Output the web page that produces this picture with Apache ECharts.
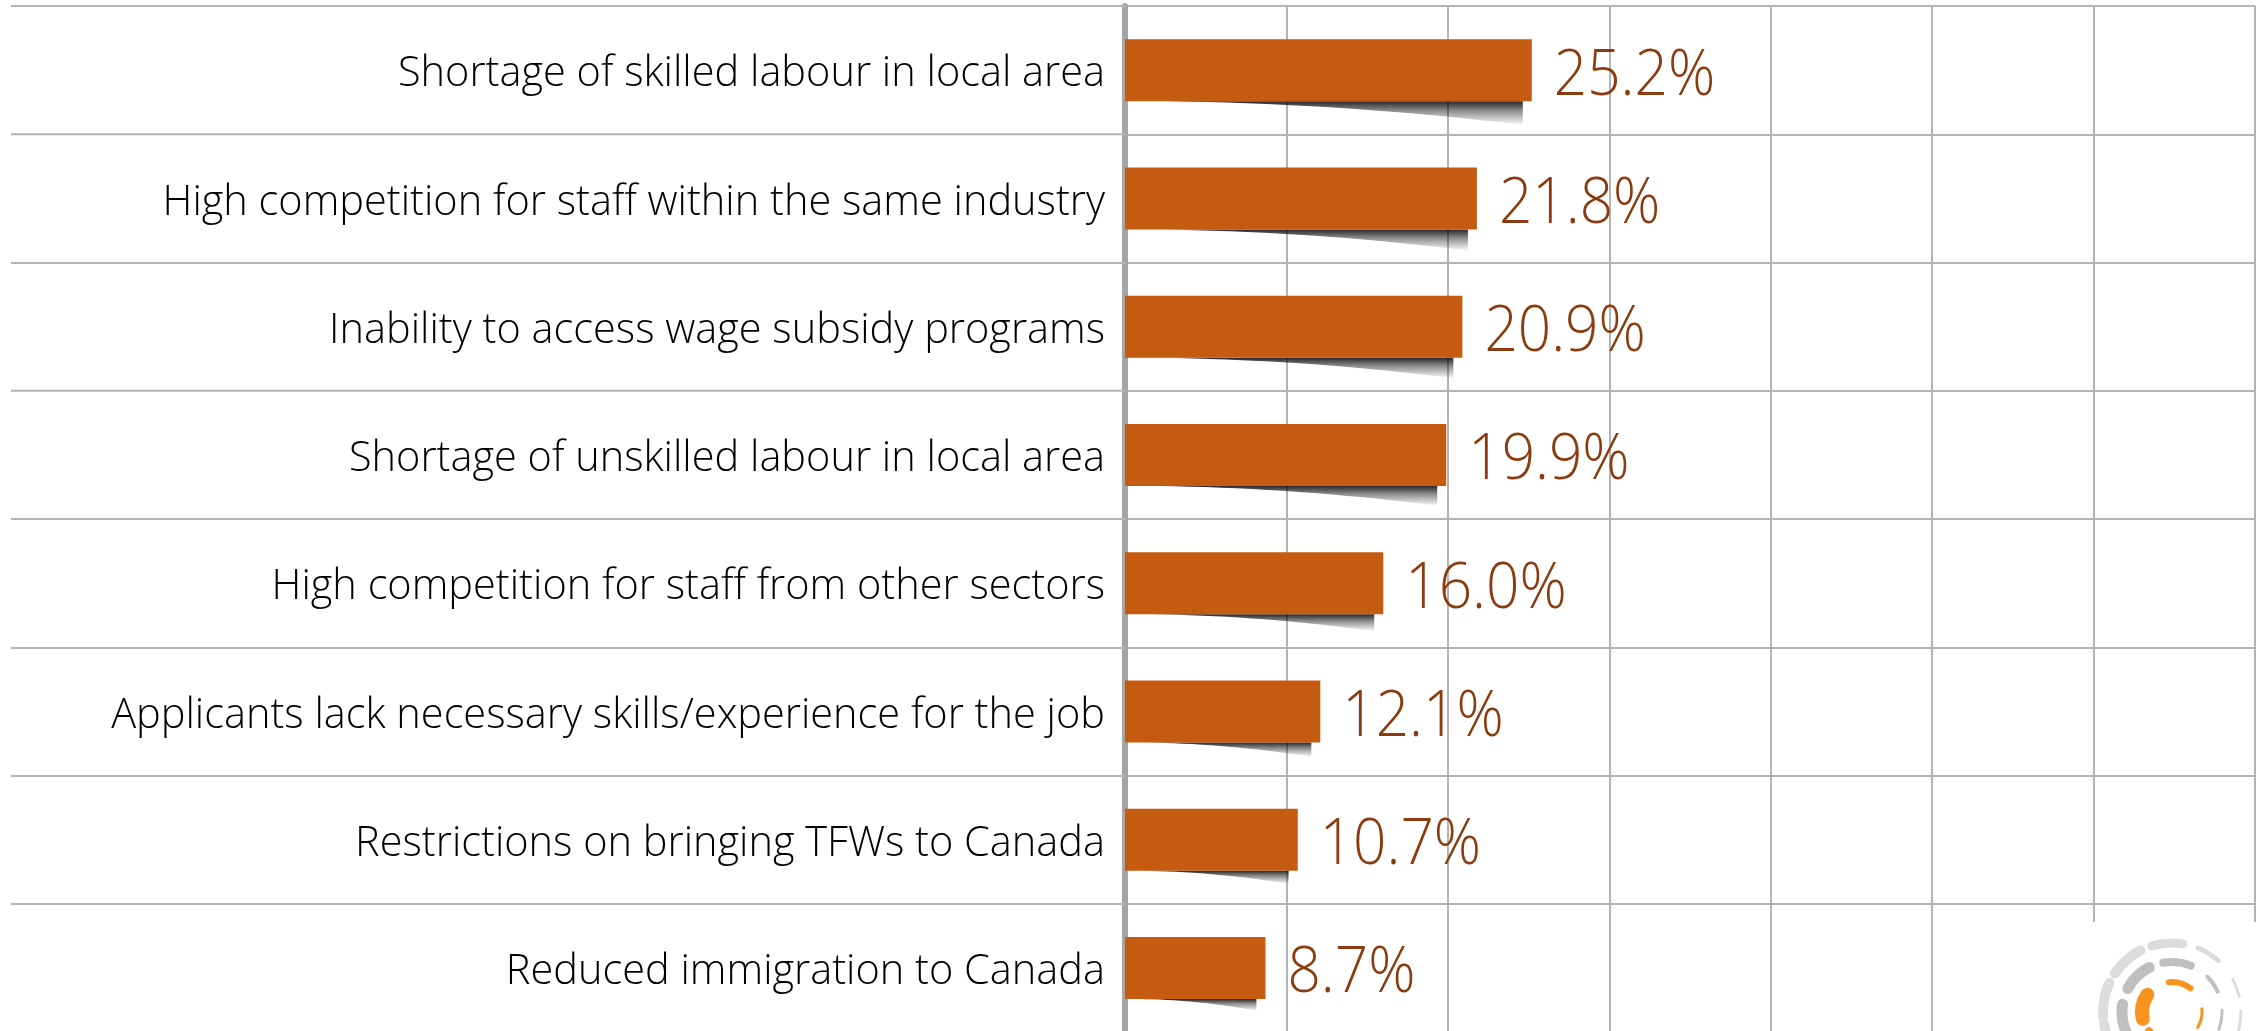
<!DOCTYPE html>
<html>
<head>
<meta charset="utf-8">
<script src="https://cdn.jsdelivr.net/npm/echarts@6/dist/echarts.min.js"></script>
<style>
  html, body { margin: 0; padding: 0; background: #ffffff; }
  #chart { width: 2262px; height: 1031px; }
</style>
</head>
<body>
<div id="chart"></div>
<script>
// Reasons given for hiring difficulties (share of respondents, %)
const categories = [
  'Shortage of skilled labour in local area',
  'High competition for staff within the same industry',
  'Inability to access wage subsidy programs',
  'Shortage of unskilled labour in local area',
  'High competition for staff from other sectors',
  'Applicants lack necessary skills/experience for the job',
  'Restrictions on bringing TFWs to Canada',
  'Reduced immigration to Canada'
];
const shares = [25.2, 21.8, 20.9, 19.9, 16.0, 12.1, 10.7, 8.7];

// value axis range (no tick labels are printed, only gridlines)
const axisMin = 0;
const axisMax = 70;
const axisStep = 10;

const FONT = "'Open Sans', 'Noto Sans', sans-serif";
const BAR_W = 62;
const GRID_COLOR = '#b4b4b4';

// Perspective drop shadow under each bar: thin at the axis, deeper toward the bar end
function shadowItem(params, api) {
  const idx = api.value(1);
  const end = api.coord([api.value(0), idx]);
  const start = api.coord([axisMin, idx]);
  const yb = end[1] + BAR_W / 2;
  const x0 = start[0] + 3;
  const x1 = end[0] - 9;
  const len = x1 - x0;
  const depth = 6 + 0.045 * len;
  const pts = [[x0, yb], [x1, yb]];
  for (let i = 20; i >= 0; i--) {
    const t = i / 20;
    pts.push([x0 + t * len, yb + depth * t * t]);
  }
  return {
    type: 'polygon',
    shape: { points: pts },
    style: {
      fill: new echarts.graphic.LinearGradient(0, 0, 0, 1, [
        { offset: 0, color: 'rgba(0,0,0,0.85)' },
        { offset: 0.4, color: 'rgba(0,0,0,0.45)' },
        { offset: 1, color: 'rgba(0,0,0,0.02)' }
      ])
    }
  };
}

// Percentage printed just past the end of each bar (slightly condensed face)
function valueLabel(params, api) {
  const v = api.value(0);
  const end = api.coord([v, api.value(1)]);
  return {
    type: 'text',
    x: end[0] + 22,
    y: end[1] + 6,
    scaleX: 0.9,
    style: {
      text: v.toFixed(1) + '%',
      fill: '#8a3b0f',
      fontSize: 65,
      fontWeight: 300,
      fontFamily: FONT,
      align: 'left',
      verticalAlign: 'middle'
    }
  };
}

// Corner emblem: broken concentric rings
const deg = Math.PI / 180;
const LOGO_CX = 2172, LOGO_CY = 1012;
const ringSegments = [
  // [radius, startDeg, endDeg, lineWidth, colour]
  [69, 150, 170, 10, '#dcdcdc'],
  [69, 176, 205, 10, '#dcdcdc'],
  [69, 214, 243, 10, '#dcdcdc'],
  [69, 253, 279, 9, '#dcdcdc'],
  [69, 292, 312, 5, '#dcdcdc'],
  [69, 332, 347, 3, '#dcdcdc'],
  [69, 359, 375, 3, '#dcdcdc'],
  [50, 157, 189, 11, '#bfbfbf'],
  [50, 208, 243, 11, '#bfbfbf'],
  [50, 260, 292, 8, '#bfbfbf'],
  [50, 315, 336, 4, '#bfbfbf'],
  [50, 358, 380, 3, '#bfbfbf'],
  [30, 110, 140, 8, '#f7941d'],
  [30, 167, 215, 14, '#f7941d'],
  [30, 264, 308, 6, '#f7941d'],
  [30, 354, 391, 3, '#f7941d']
];
const logoGraphics = [{
  type: 'rect',
  shape: { x: 2088, y: 922, width: 174, height: 109 },
  style: { fill: '#ffffff' },
  z: 100
}].concat(ringSegments.map(s => ({
  type: 'arc',
  shape: { cx: LOGO_CX, cy: LOGO_CY, r: s[0], startAngle: s[1] * deg, endAngle: s[2] * deg, clockwise: true },
  style: { stroke: s[4], lineWidth: s[3], fill: null, lineCap: 'round' },
  z: 101
})));

const chart = echarts.init(document.getElementById('chart'));
chart.setOption({
  animation: false,
  backgroundColor: '#ffffff',
  grid: {
    left: 1125,
    width: 1130,
    top: 6,
    height: 1026,
    containLabel: false,
    outerBoundsMode: 'none'
  },
  xAxis: {
    type: 'value',
    min: axisMin,
    max: axisMax,
    interval: axisStep,
    axisLine: { show: false },
    axisTick: { show: false },
    axisLabel: { show: false },
    splitLine: { show: true, lineStyle: { color: GRID_COLOR, width: 2 } }
  },
  yAxis: {
    type: 'category',
    data: categories,
    inverse: true,
    axisLine: { show: true, lineStyle: { color: '#a5a5a5', width: 6 } },
    axisTick: { show: true, interval: 0, length: 1114, lineStyle: { color: GRID_COLOR, width: 2 } },
    splitLine: { show: true, interval: 0, lineStyle: { color: GRID_COLOR, width: 2 } },
    axisLabel: {
      interval: 0,
      margin: 20,
      formatter: name => '{t|' + name + '}',
      rich: {
        t: {
          color: '#000000',
          fontSize: 41.5,
          fontWeight: 300,
          fontFamily: FONT,
          padding: [9, 0, 0, 0]
        }
      }
    }
  },
  series: [
    {
      type: 'custom',
      renderItem: shadowItem,
      data: shares.map((v, i) => [v, i]),
      encode: { x: 0, y: 1 },
      z: 1,
      silent: true
    },
    {
      type: 'bar',
      data: shares,
      barWidth: BAR_W,
      z: 3,
      itemStyle: { color: '#c55a11' }
    },
    {
      type: 'custom',
      renderItem: valueLabel,
      data: shares.map((v, i) => [v, i]),
      encode: { x: 0, y: 1 },
      z: 4,
      silent: true
    }
  ],
  graphic: logoGraphics
});
</script>
</body>
</html>
